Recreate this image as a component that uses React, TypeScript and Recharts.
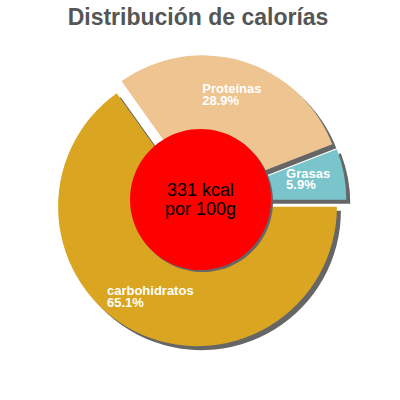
import React from 'react';
import { PieChart, Pie, Sector } from 'recharts';

const titleText = 'Distribución de calorías';
const categories = ['Grasas', 'Proteínas', 'carbohidratos'];
const percents = [5.9, 28.9, 65.1];
const colors = ['#7ac4cc', '#eec491', '#daa520'];
const centerLines = ['331 kcal', 'por 100g'];

const data = categories.map((name, i) => ({ name, value: percents[i] }));
const centerData = [{ name: 'kcal', value: 1 }];

const RAD = Math.PI / 180;
const EXPLODE = 6.5;
const SHADOW = 4;
const CENTER_SHADOW = 2;
const LABEL_R = 103;
const FONT = '"Liberation Sans", Arial, sans-serif';
const LABEL_FONT = `bold 13px ${FONT}`;

let ctx: CanvasRenderingContext2D | null = null;
const measure = (t: string) => {
  if (!ctx) ctx = document.createElement('canvas').getContext('2d');
  if (!ctx) return t.length * 7;
  ctx.font = LABEL_FONT;
  return ctx.measureText(t).width;
};

const offset = (p: any) => ({
  dx: EXPLODE * Math.cos(p.midAngle * RAD),
  dy: -EXPLODE * Math.sin(p.midAngle * RAD),
});

const renderShadow = (p: any) => {
  const { dx, dy } = offset(p);
  return (
    <Sector
      cx={p.cx + dx + SHADOW}
      cy={p.cy + dy + SHADOW}
      innerRadius={0}
      outerRadius={p.outerRadius}
      startAngle={p.startAngle}
      endAngle={p.endAngle}
      fill="#666666"
      stroke="none"
    />
  );
};

const renderSlice = (p: any) => {
  const { dx, dy } = offset(p);
  const scx = p.cx + dx;
  const scy = p.cy + dy;
  const px = scx + LABEL_R * Math.cos(p.midAngle * RAD);
  const py = scy - LABEL_R * Math.sin(p.midAngle * RAD);
  const name = categories[p.index];
  const pct = `${percents[p.index]}%`;
  const w = Math.max(measure(name), measure(pct));
  const x0 = px - w / 2;
  return (
    <g>
      <Sector
        cx={scx}
        cy={scy}
        innerRadius={0}
        outerRadius={p.outerRadius}
        startAngle={p.startAngle}
        endAngle={p.endAngle}
        fill={colors[p.index]}
        stroke="none"
      />
      <text fill="#ffffff" fontFamily={FONT} fontSize={13} fontWeight="bold" textAnchor="start">
        <tspan x={x0} y={py - 3}>{name}</tspan>
        <tspan x={x0} y={py + 8.5}>{pct}</tspan>
      </text>
    </g>
  );
};

const renderCenter = (p: any) => (
  <g>
    <Sector
      cx={p.cx + CENTER_SHADOW}
      cy={p.cy + CENTER_SHADOW}
      innerRadius={0}
      outerRadius={p.outerRadius}
      startAngle={p.startAngle}
      endAngle={p.endAngle}
      fill="#666666"
      stroke="none"
    />
    <Sector
      cx={p.cx}
      cy={p.cy}
      innerRadius={0}
      outerRadius={p.outerRadius}
      startAngle={p.startAngle}
      endAngle={p.endAngle}
      fill="#ff0000"
      stroke="none"
    />
    <text fill="#000000" fontFamily={FONT} fontSize={18} textAnchor="middle">
      <tspan x={p.cx} y={p.cy - 3.5}>{centerLines[0]}</tspan>
      <tspan x={p.cx} y={p.cy + 15.5}>{centerLines[1]}</tspan>
    </text>
  </g>
);

export default function App() {
  return (
    <div style={{ position: 'absolute', left: 0, top: 0, width: 400, height: 400, background: '#fff' }}>
      <PieChart width={400} height={400} margin={{ top: 0, right: 0, bottom: 0, left: 0 }}>
        <Pie
          data={data}
          dataKey="value"
          cx={200.5}
          cy={201}
          innerRadius={0}
          outerRadius={139.4}
          fill="transparent"
          stroke="none"
          label={renderShadow}
          labelLine={false}
          isAnimationActive={false}
        />
        <Pie
          data={data}
          dataKey="value"
          cx={200.5}
          cy={201}
          innerRadius={0}
          outerRadius={139.4}
          fill="transparent"
          stroke="none"
          label={renderSlice}
          labelLine={false}
          isAnimationActive={false}
        />
        <Pie
          data={centerData}
          dataKey="value"
          cx={200.5}
          cy={199.5}
          outerRadius={70.5}
          fill="transparent"
          stroke="none"
          label={renderCenter}
          labelLine={false}
          isAnimationActive={false}
        />
      </PieChart>
      <svg width={400} height={40} style={{ position: 'absolute', left: 0, top: 0 }}>
        <text x={198} y={25} textAnchor="middle" fontFamily={FONT} fontSize={23} fontWeight="bold" fill="#555555">
          {titleText}
        </text>
      </svg>
    </div>
  );
}
